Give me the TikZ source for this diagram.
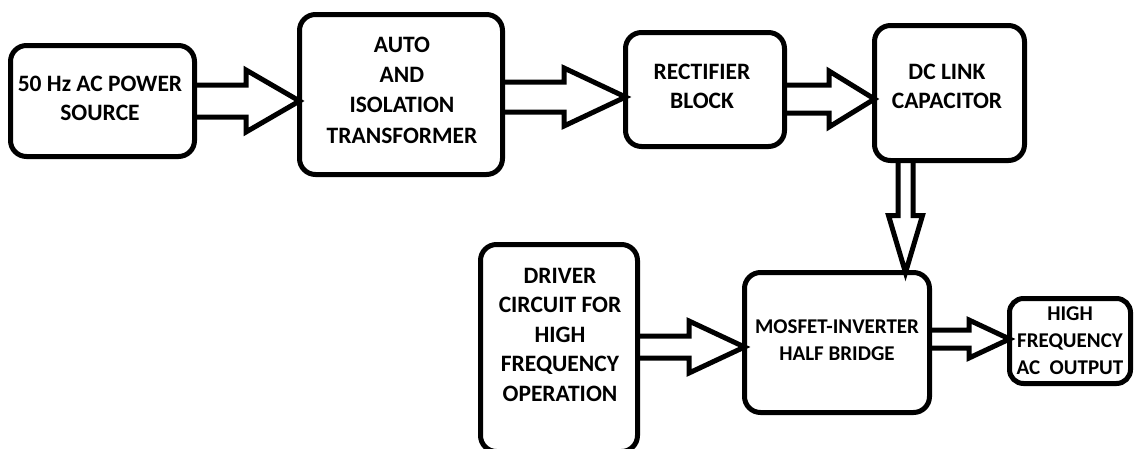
\documentclass[tikz,border=0pt]{standalone}
\usepackage{fontspec}
\setmainfont{Carlito}
\usetikzlibrary{calc}
\tikzset{
  box/.style={draw=black, line width=5pt, rounded corners=16pt, inner sep=0pt, outer sep=0pt},
  conn/.style={draw=black, line width=5pt, line join=miter},
  lbl/.style={anchor=north, align=center, inner sep=0pt, font=\bfseries\fontsize{23.5}{29.7}\selectfont},
  lbls/.style={anchor=north, align=center, inner sep=0pt, font=\bfseries\fontsize{21}{27}\selectfont},
}
% horizontal block arrow: from, to, y, shaft half, head half, head length
\newcommand{\hblockarrow}[6]{%
  \draw[conn] (#1.east |- 0,#3-#4) -- ($(#2.west |- 0,#3)+(-#6,-#4)$)
    -- ($(#2.west |- 0,#3)+(-#6,-#5)$) -- (#2.west |- 0,#3)
    -- ($(#2.west |- 0,#3)+(-#6,#5)$) -- ($(#2.west |- 0,#3)+(-#6,#4)$)
    -- (#1.east |- 0,#3+#4);}
% vertical block arrow: from, to, x, shaft half, head half, head length
\newcommand{\vblockarrow}[6]{%
  \draw[conn] (#1.south -| #3-#4,0) -- ($(#2.north -| #3,0)+(-#4,-#6)$)
    -- ($(#2.north -| #3,0)+(-#5,-#6)$) -- (#2.north -| #3,0)
    -- ($(#2.north -| #3,0)+(#5,-#6)$) -- ($(#2.north -| #3,0)+(#4,-#6)$)
    -- (#1.south -| #3+#4,0);}
\begin{document}
\begin{tikzpicture}[x=1pt,y=-1pt]
\useasboundingbox[fill=white] (0,0) rectangle (1135,448);
% boxes
\node[box, minimum width=184pt, minimum height=111pt] (src) at (102.5,101) {};
\node[box, minimum width=203pt, minimum height=160pt] (trf) at (401,94.5) {};
\node[box, minimum width=159pt, minimum height=114pt] (rec) at (705,89.5) {};
\node[box, minimum width=150pt, minimum height=135pt] (dcl) at (949.5,93) {};
\node[box, minimum width=185pt, minimum height=140pt] (inv) at (837,342.5) {};
\node[box, minimum width=157pt, minimum height=207pt] (drv) at (559,348) {};
\node[box, rounded corners=14pt, minimum width=121pt, minimum height=85pt] (out) at (1070,341) {};
% labels
\node[lbl] (srcl) at (100,75.6) {50 Hz AC POWER\\SOURCE};
\node[lbl, font=\bfseries\fontsize{23.5}{30.3}\selectfont] (trfl) at (402,36.6) {AUTO\\AND\\ISOLATION\\TRANSFORMER};
\node[lbl, font=\bfseries\fontsize{23.5}{29}\selectfont] (recl) at (702,63.6) {RECTIFIER\\BLOCK};
\node[lbl, font=\bfseries\fontsize{23.5}{29}\selectfont] (dcll) at (947,63.6) {DC LINK\\CAPACITOR};
\node[lbl, font=\bfseries\fontsize{23.5}{29.5}\selectfont] (drvl) at (560,267.6) {DRIVER\\CIRCUIT FOR\\HIGH\\FREQUENCY\\OPERATION};
\node[lbls] (invl) at (837,319.4) {MOSFET-INVERTER\\HALF BRIDGE};
\node[lbls] (outl) at (1070,306.4) {HIGH\\FREQUENCY\\AC\ \ OUTPUT};
% connectors
\hblockarrow{src}{trf}{101}{16}{31}{53.5}
\hblockarrow{trf}{rec}{97}{15}{29}{61.5}
\hblockarrow{rec}{dcl}{99}{14}{28}{45.5}
\vblockarrow{dcl}{inv}{905.5}{7.5}{17}{57}
\hblockarrow{drv}{inv}{347}{11}{26}{55.5}
\hblockarrow{inv}{out}{339}{9}{19}{40.5}
\end{tikzpicture}
\end{document}
